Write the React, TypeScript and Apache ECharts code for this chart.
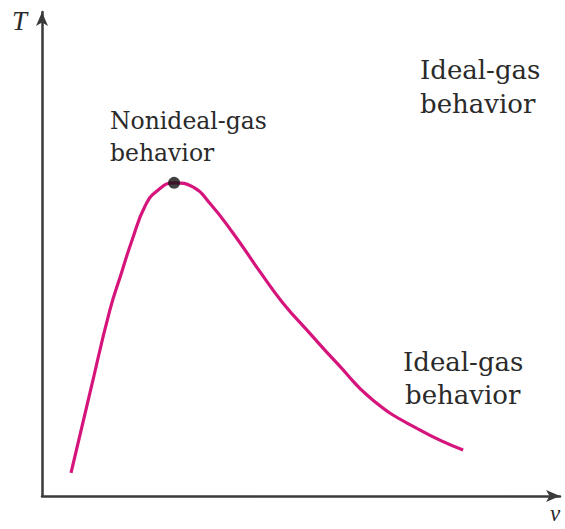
import React, { useEffect, useRef } from "react";
import * as echarts from "echarts";

const curveV = [0.56, 0.93, 1.31, 1.54, 1.74, 1.99, 2.22, 2.55, 2.92, 3.24, 3.69, 4.21, 4.65, 5.18, 5.69, 6.39, 7.3, 8.13];
const curveT = [0.48, 2.15, 3.84, 4.63, 5.29, 5.99, 6.3, 6.47, 6.38, 6.05, 5.43, 4.63, 3.99, 3.35, 2.75, 1.98, 1.36, 0.95];
const peakPoint = [2.55, 6.47];
const labelLines = ["Nonideal-gas", "behavior", "Ideal-gas", "behavior", "Ideal-gas", "behavior"];

export default function App() {
  const ref = useRef<HTMLDivElement>(null);
  useEffect(() => {
    if (!ref.current) return;
    const chart = echarts.init(ref.current, null, { renderer: "svg" });
    const txt = (text: string, x: number, y: number, fam: string, extra: any = {}) => ({
      type: "text",
      left: x,
      top: y,
      style: { text, fill: "#2a2a2a", fontFamily: fam, fontSize: 25, ...extra },
    });
    const dv = "DejaVu Serif";
    chart.setOption({
      animation: false,
      backgroundColor: "#fff",
      grid: { left: 42, right: 5, top: 12, bottom: 33 },
      xAxis: {
        type: "value",
        min: 0,
        max: 10,
        axisLine: { lineStyle: { color: "#3a3a3a", width: 2.5 }, symbol: ["none", "arrow"], symbolSize: [9, 14] },
        axisTick: { show: false },
        axisLabel: { show: false },
        splitLine: { show: false },
      },
      yAxis: {
        type: "value",
        min: 0,
        max: 10,
        axisLine: { show: true, lineStyle: { color: "#3a3a3a", width: 2.5 }, symbol: ["none", "arrow"], symbolSize: [9, 14] },
        axisTick: { show: false },
        axisLabel: { show: false },
        splitLine: { show: false },
      },
      series: [
        {
          type: "line",
          data: curveV.map((v, i) => [v, curveT[i]]),
          smooth: 0.5,
          showSymbol: false,
          lineStyle: { color: "#d6157c", width: 3.2 },
        },
        {
          type: "scatter",
          data: [peakPoint],
          symbolSize: 12,
          itemStyle: { color: "#111" },
          z: 5,
        },
      ],
      graphic: [
        txt("T", 12, 7, "Liberation Serif", { fontStyle: "italic", fontSize: 27 }),
        txt("v", 550, 502, "Liberation Serif", { fontStyle: "italic", fontSize: 23 }),
        txt(labelLines[0], 110, 109, dv, { fontSize: 23.5 }),
        txt(labelLines[1], 110, 141, dv, { fontSize: 23.5 }),
        txt(labelLines[2], 420, 57, dv, { fontSize: 26 }),
        txt(labelLines[3], 420, 91, dv, { fontSize: 26 }),
        txt(labelLines[4], 403, 349, dv, { fontSize: 26 }),
        txt(labelLines[5], 405, 382, dv, { fontSize: 26 }),
      ],
    });
    return () => chart.dispose();
  }, []);
  return <div ref={ref} style={{ position: "fixed", left: 0, top: 0, width: 565, height: 529 }} />;
}
